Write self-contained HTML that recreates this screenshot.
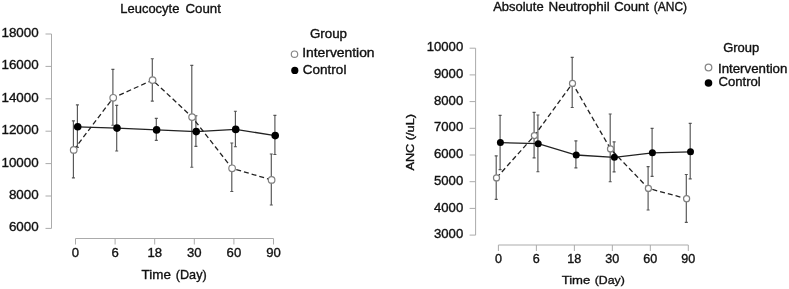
<!DOCTYPE html>
<html><head><meta charset="utf-8"><style>
html,body{margin:0;padding:0;background:#fff;width:789px;height:289px;overflow:hidden}
svg{display:block}
text{font-family:"Liberation Sans", sans-serif;fill:#111;stroke:#111;stroke-width:0.35px}
svg{will-change:transform;filter:blur(0.35px)}
</style></head><body>
<svg width="789" height="289" viewBox="0 0 789 289">
<rect width="789" height="289" fill="#fff"/>
<path d="M51.5,34.0V228.4" stroke="#ababab" stroke-width="1" fill="none"/>
<path d="M45.5,34.0H51.5" stroke="#ababab" stroke-width="1"/>
<path d="M45.5,66.4H51.5" stroke="#ababab" stroke-width="1"/>
<path d="M45.5,98.8H51.5" stroke="#ababab" stroke-width="1"/>
<path d="M45.5,131.2H51.5" stroke="#ababab" stroke-width="1"/>
<path d="M45.5,163.6H51.5" stroke="#ababab" stroke-width="1"/>
<path d="M45.5,196.0H51.5" stroke="#ababab" stroke-width="1"/>
<path d="M45.5,228.4H51.5" stroke="#ababab" stroke-width="1"/>
<path d="M75.5,238.5H273.5" stroke="#ababab" stroke-width="1" fill="none"/>
<path d="M75.5,238.5V244.5" stroke="#ababab" stroke-width="1"/>
<path d="M115.1,238.5V244.5" stroke="#ababab" stroke-width="1"/>
<path d="M154.7,238.5V244.5" stroke="#ababab" stroke-width="1"/>
<path d="M194.3,238.5V244.5" stroke="#ababab" stroke-width="1"/>
<path d="M233.9,238.5V244.5" stroke="#ababab" stroke-width="1"/>
<path d="M273.5,238.5V244.5" stroke="#ababab" stroke-width="1"/>
<text x="38.7" y="36.9" font-size="13.2" text-anchor="end" textLength="37.25" lengthAdjust="spacingAndGlyphs">18000</text>
<text x="38.7" y="69.3" font-size="13.2" text-anchor="end" textLength="37.25" lengthAdjust="spacingAndGlyphs">16000</text>
<text x="38.7" y="101.7" font-size="13.2" text-anchor="end" textLength="37.25" lengthAdjust="spacingAndGlyphs">14000</text>
<text x="38.7" y="134.1" font-size="13.2" text-anchor="end" textLength="37.25" lengthAdjust="spacingAndGlyphs">12000</text>
<text x="38.7" y="166.5" font-size="13.2" text-anchor="end" textLength="37.25" lengthAdjust="spacingAndGlyphs">10000</text>
<text x="38.7" y="198.9" font-size="13.2" text-anchor="end" textLength="29.8" lengthAdjust="spacingAndGlyphs">8000</text>
<text x="38.7" y="231.3" font-size="13.2" text-anchor="end" textLength="29.8" lengthAdjust="spacingAndGlyphs">6000</text>
<text x="75.5" y="257.3" font-size="13.2" text-anchor="middle" textLength="7.3" lengthAdjust="spacingAndGlyphs">0</text>
<text x="115.1" y="257.3" font-size="13.2" text-anchor="middle" textLength="7.3" lengthAdjust="spacingAndGlyphs">6</text>
<text x="154.7" y="257.3" font-size="13.2" text-anchor="middle" textLength="14.6" lengthAdjust="spacingAndGlyphs">18</text>
<text x="194.3" y="257.3" font-size="13.2" text-anchor="middle" textLength="14.6" lengthAdjust="spacingAndGlyphs">30</text>
<text x="233.9" y="257.3" font-size="13.2" text-anchor="middle" textLength="14.6" lengthAdjust="spacingAndGlyphs">60</text>
<text x="273.5" y="257.3" font-size="13.2" text-anchor="middle" textLength="14.6" lengthAdjust="spacingAndGlyphs">90</text>
<circle cx="294.5" cy="54.2" r="3.2" fill="#fff" stroke="#888" stroke-width="1.2"/>
<circle cx="294.8" cy="70.4" r="3.6" fill="#000"/>
<path d="M73.4,120.8V177.9M71.90,120.8H74.90M71.90,177.9H74.90" stroke="#555" stroke-width="1.15" fill="none"/>
<path d="M112.9,69.4V125.2M111.40,69.4H114.40M111.40,125.2H114.40" stroke="#555" stroke-width="1.15" fill="none"/>
<path d="M152.3,58.7V101.1M150.80,58.7H153.80M150.80,101.1H153.80" stroke="#555" stroke-width="1.15" fill="none"/>
<path d="M191.8,65.4V167.2M190.30,65.4H193.30M190.30,167.2H193.30" stroke="#555" stroke-width="1.15" fill="none"/>
<path d="M231.8,143V191.5M230.30,143H233.30M230.30,191.5H233.30" stroke="#555" stroke-width="1.15" fill="none"/>
<path d="M271.3,154V205M269.80,154H272.80M269.80,205H272.80" stroke="#555" stroke-width="1.15" fill="none"/>
<path d="M77.4,104.8V147.3M75.90,104.8H78.90M75.90,147.3H78.90" stroke="#555" stroke-width="1.15" fill="none"/>
<path d="M116.7,105.3V151M115.20,105.3H118.20M115.20,151H118.20" stroke="#555" stroke-width="1.15" fill="none"/>
<path d="M156.3,118.4V140.3M154.80,118.4H157.80M154.80,140.3H157.80" stroke="#555" stroke-width="1.15" fill="none"/>
<path d="M195.9,115.7V146.3M194.40,115.7H197.40M194.40,146.3H197.40" stroke="#555" stroke-width="1.15" fill="none"/>
<path d="M235.4,111.2V146.7M233.90,111.2H236.90M233.90,146.7H236.90" stroke="#555" stroke-width="1.15" fill="none"/>
<path d="M274.9,115.4V154.5M273.40,115.4H276.40M273.40,154.5H276.40" stroke="#555" stroke-width="1.15" fill="none"/>
<path d="M73.70,149.90 L113.20,97.80 L152.60,80.10 L192.10,117.10 L232.10,168.30 L271.60,179.90" stroke="#222" stroke-width="1.3" stroke-dasharray="5,3" fill="none"/>
<path d="M77.70,126.80 L117.00,128.10 L156.60,129.90 L196.20,131.60 L235.70,129.40 L275.20,135.60" stroke="#222" stroke-width="1.3" fill="none"/>
<circle cx="73.7" cy="149.9" r="3.30" fill="#fff" stroke="#808080" stroke-width="1.2"/>
<circle cx="113.2" cy="97.8" r="3.30" fill="#fff" stroke="#808080" stroke-width="1.2"/>
<circle cx="152.6" cy="80.1" r="3.30" fill="#fff" stroke="#808080" stroke-width="1.2"/>
<circle cx="192.1" cy="117.1" r="3.30" fill="#fff" stroke="#808080" stroke-width="1.2"/>
<circle cx="232.1" cy="168.3" r="3.30" fill="#fff" stroke="#808080" stroke-width="1.2"/>
<circle cx="271.6" cy="179.9" r="3.30" fill="#fff" stroke="#808080" stroke-width="1.2"/>
<circle cx="77.7" cy="126.8" r="3.80" fill="#000"/>
<circle cx="117.0" cy="128.1" r="3.80" fill="#000"/>
<circle cx="156.6" cy="129.9" r="3.80" fill="#000"/>
<circle cx="196.2" cy="131.6" r="3.80" fill="#000"/>
<circle cx="235.7" cy="129.4" r="3.80" fill="#000"/>
<circle cx="275.2" cy="135.6" r="3.80" fill="#000"/>
<text x="120.3" y="12.65" font-size="13.0" text-anchor="start" textLength="59.05" lengthAdjust="spacingAndGlyphs">Leucocyte</text>
<text x="185.45" y="12.65" font-size="13.0" text-anchor="start" textLength="35.4" lengthAdjust="spacingAndGlyphs">Count</text>
<text x="309.95" y="37.5" font-size="12.3" text-anchor="start" textLength="37.1" lengthAdjust="spacingAndGlyphs">Group</text>
<text x="302.15" y="57.1" font-size="12.3" text-anchor="start" textLength="72.45" lengthAdjust="spacingAndGlyphs">Intervention</text>
<text x="302.85" y="73.7" font-size="12.3" text-anchor="start" textLength="43.55" lengthAdjust="spacingAndGlyphs">Control</text>
<text x="141.55" y="278.5" font-size="12.6" text-anchor="start" textLength="29.3" lengthAdjust="spacingAndGlyphs">Time</text>
<text x="175.75" y="278.5" font-size="12.6" text-anchor="start" textLength="30.95" lengthAdjust="spacingAndGlyphs">(Day)</text>
<text x="493.2" y="11.3" font-size="12.0" text-anchor="start" textLength="50.45" lengthAdjust="spacingAndGlyphs">Absolute</text>
<text x="548.6" y="11.3" font-size="12.0" text-anchor="start" textLength="61.1" lengthAdjust="spacingAndGlyphs">Neutrophil</text>
<text x="614.15" y="11.3" font-size="12.0" text-anchor="start" textLength="34.8" lengthAdjust="spacingAndGlyphs">Count</text>
<text x="653.85" y="11.3" font-size="12.0" text-anchor="start" textLength="33.25" lengthAdjust="spacingAndGlyphs">(ANC)</text>
<text x="723.15" y="52.2" font-size="12.1" text-anchor="start" textLength="36.1" lengthAdjust="spacingAndGlyphs">Group</text>
<text x="717.95" y="72.7" font-size="12.0" text-anchor="start" textLength="69.45" lengthAdjust="spacingAndGlyphs">Intervention</text>
<text x="718.45" y="86.4" font-size="12.0" text-anchor="start" textLength="42.35" lengthAdjust="spacingAndGlyphs">Control</text>
<text x="561.65" y="284.1" font-size="11.7" text-anchor="start" textLength="28.6" lengthAdjust="spacingAndGlyphs">Time</text>
<text x="594.75" y="284.1" font-size="11.7" text-anchor="start" textLength="30.05" lengthAdjust="spacingAndGlyphs">(Day)</text>
<path d="M475.6,48.2V235.1" stroke="#ababab" stroke-width="1" fill="none"/>
<path d="M469.6,48.2H475.6" stroke="#ababab" stroke-width="1"/>
<path d="M469.6,74.9H475.6" stroke="#ababab" stroke-width="1"/>
<path d="M469.6,101.6H475.6" stroke="#ababab" stroke-width="1"/>
<path d="M469.6,128.3H475.6" stroke="#ababab" stroke-width="1"/>
<path d="M469.6,155.0H475.6" stroke="#ababab" stroke-width="1"/>
<path d="M469.6,181.7H475.6" stroke="#ababab" stroke-width="1"/>
<path d="M469.6,208.4H475.6" stroke="#ababab" stroke-width="1"/>
<path d="M469.6,235.1H475.6" stroke="#ababab" stroke-width="1"/>
<path d="M498.4,245H688.3" stroke="#ababab" stroke-width="1" fill="none"/>
<path d="M498.4,245V251" stroke="#ababab" stroke-width="1"/>
<path d="M536.38,245V251" stroke="#ababab" stroke-width="1"/>
<path d="M574.36,245V251" stroke="#ababab" stroke-width="1"/>
<path d="M612.34,245V251" stroke="#ababab" stroke-width="1"/>
<path d="M650.32,245V251" stroke="#ababab" stroke-width="1"/>
<path d="M688.3,245V251" stroke="#ababab" stroke-width="1"/>
<text x="463.2" y="51.3" font-size="12.4" text-anchor="end" textLength="36.5" lengthAdjust="spacingAndGlyphs">10000</text>
<text x="463.2" y="78.0" font-size="12.4" text-anchor="end" textLength="29.2" lengthAdjust="spacingAndGlyphs">9000</text>
<text x="463.2" y="104.7" font-size="12.4" text-anchor="end" textLength="29.2" lengthAdjust="spacingAndGlyphs">8000</text>
<text x="463.2" y="131.4" font-size="12.4" text-anchor="end" textLength="29.2" lengthAdjust="spacingAndGlyphs">7000</text>
<text x="463.2" y="158.1" font-size="12.4" text-anchor="end" textLength="29.2" lengthAdjust="spacingAndGlyphs">6000</text>
<text x="463.2" y="184.8" font-size="12.4" text-anchor="end" textLength="29.2" lengthAdjust="spacingAndGlyphs">5000</text>
<text x="463.2" y="211.5" font-size="12.4" text-anchor="end" textLength="29.2" lengthAdjust="spacingAndGlyphs">4000</text>
<text x="463.2" y="238.2" font-size="12.4" text-anchor="end" textLength="29.2" lengthAdjust="spacingAndGlyphs">3000</text>
<text x="498.4" y="263.4" font-size="12.4" text-anchor="middle" textLength="7.0" lengthAdjust="spacingAndGlyphs">0</text>
<text x="536.38" y="263.4" font-size="12.4" text-anchor="middle" textLength="7.0" lengthAdjust="spacingAndGlyphs">6</text>
<text x="574.36" y="263.4" font-size="12.4" text-anchor="middle" textLength="14.0" lengthAdjust="spacingAndGlyphs">18</text>
<text x="612.34" y="263.4" font-size="12.4" text-anchor="middle" textLength="14.0" lengthAdjust="spacingAndGlyphs">30</text>
<text x="650.32" y="263.4" font-size="12.4" text-anchor="middle" textLength="14.0" lengthAdjust="spacingAndGlyphs">60</text>
<text x="688.3" y="263.4" font-size="12.4" text-anchor="middle" textLength="14.0" lengthAdjust="spacingAndGlyphs">90</text>
<g transform="translate(414.0,142.3) rotate(-90)"><text x="0" y="0" font-size="11.8" text-anchor="middle" textLength="56.6" lengthAdjust="spacingAndGlyphs">ANC (/uL)</text></g>
<circle cx="708.5" cy="67.5" r="3.3" fill="#fff" stroke="#888" stroke-width="1.3"/>
<circle cx="708.5" cy="83.0" r="3.8" fill="#000"/>
<path d="M496.2,155.8V199.4M494.70,155.8H497.70M494.70,199.4H497.70" stroke="#555" stroke-width="1.15" fill="none"/>
<path d="M534.1,112.4V157.8M532.60,112.4H535.60M532.60,157.8H535.60" stroke="#555" stroke-width="1.15" fill="none"/>
<path d="M572.2,57.4V107.5M570.70,57.4H573.70M570.70,107.5H573.70" stroke="#555" stroke-width="1.15" fill="none"/>
<path d="M610.2,114V181.7M608.70,114H611.70M608.70,181.7H611.70" stroke="#555" stroke-width="1.15" fill="none"/>
<path d="M648.1,166.6V210M646.60,166.6H649.60M646.60,210H649.60" stroke="#555" stroke-width="1.15" fill="none"/>
<path d="M686.3,174.5V222.4M684.80,174.5H687.80M684.80,222.4H687.80" stroke="#555" stroke-width="1.15" fill="none"/>
<path d="M500.1,115.4V169.6M498.60,115.4H501.60M498.60,169.6H501.60" stroke="#555" stroke-width="1.15" fill="none"/>
<path d="M537.9,115V171.7M536.40,115H539.40M536.40,171.7H539.40" stroke="#555" stroke-width="1.15" fill="none"/>
<path d="M575.9,140.9V167.8M574.40,140.9H577.40M574.40,167.8H577.40" stroke="#555" stroke-width="1.15" fill="none"/>
<path d="M614.1,141.9V171.9M612.60,141.9H615.60M612.60,171.9H615.60" stroke="#555" stroke-width="1.15" fill="none"/>
<path d="M652.1,128.3V176.3M650.60,128.3H653.60M650.60,176.3H653.60" stroke="#555" stroke-width="1.15" fill="none"/>
<path d="M690.2,123.3V178.8M688.70,123.3H691.70M688.70,178.8H691.70" stroke="#555" stroke-width="1.15" fill="none"/>
<path d="M496.50,177.90 L534.40,135.60 L572.50,83.40 L610.50,148.90 L648.40,188.40 L686.60,198.70" stroke="#222" stroke-width="1.3" stroke-dasharray="5,3" fill="none"/>
<path d="M500.40,142.60 L538.20,143.70 L576.20,155.00 L614.40,157.30 L652.40,152.80 L690.50,151.80" stroke="#222" stroke-width="1.3" fill="none"/>
<circle cx="496.5" cy="177.9" r="3.04" fill="#fff" stroke="#808080" stroke-width="1.2"/>
<circle cx="534.4" cy="135.6" r="3.04" fill="#fff" stroke="#808080" stroke-width="1.2"/>
<circle cx="572.5" cy="83.4" r="3.04" fill="#fff" stroke="#808080" stroke-width="1.2"/>
<circle cx="610.5" cy="148.9" r="3.04" fill="#fff" stroke="#808080" stroke-width="1.2"/>
<circle cx="648.4" cy="188.4" r="3.04" fill="#fff" stroke="#808080" stroke-width="1.2"/>
<circle cx="686.6" cy="198.7" r="3.04" fill="#fff" stroke="#808080" stroke-width="1.2"/>
<circle cx="500.4" cy="142.6" r="3.50" fill="#000"/>
<circle cx="538.2" cy="143.7" r="3.50" fill="#000"/>
<circle cx="576.2" cy="155.0" r="3.50" fill="#000"/>
<circle cx="614.4" cy="157.3" r="3.50" fill="#000"/>
<circle cx="652.4" cy="152.8" r="3.50" fill="#000"/>
<circle cx="690.5" cy="151.8" r="3.50" fill="#000"/>
</svg>
</body></html>
